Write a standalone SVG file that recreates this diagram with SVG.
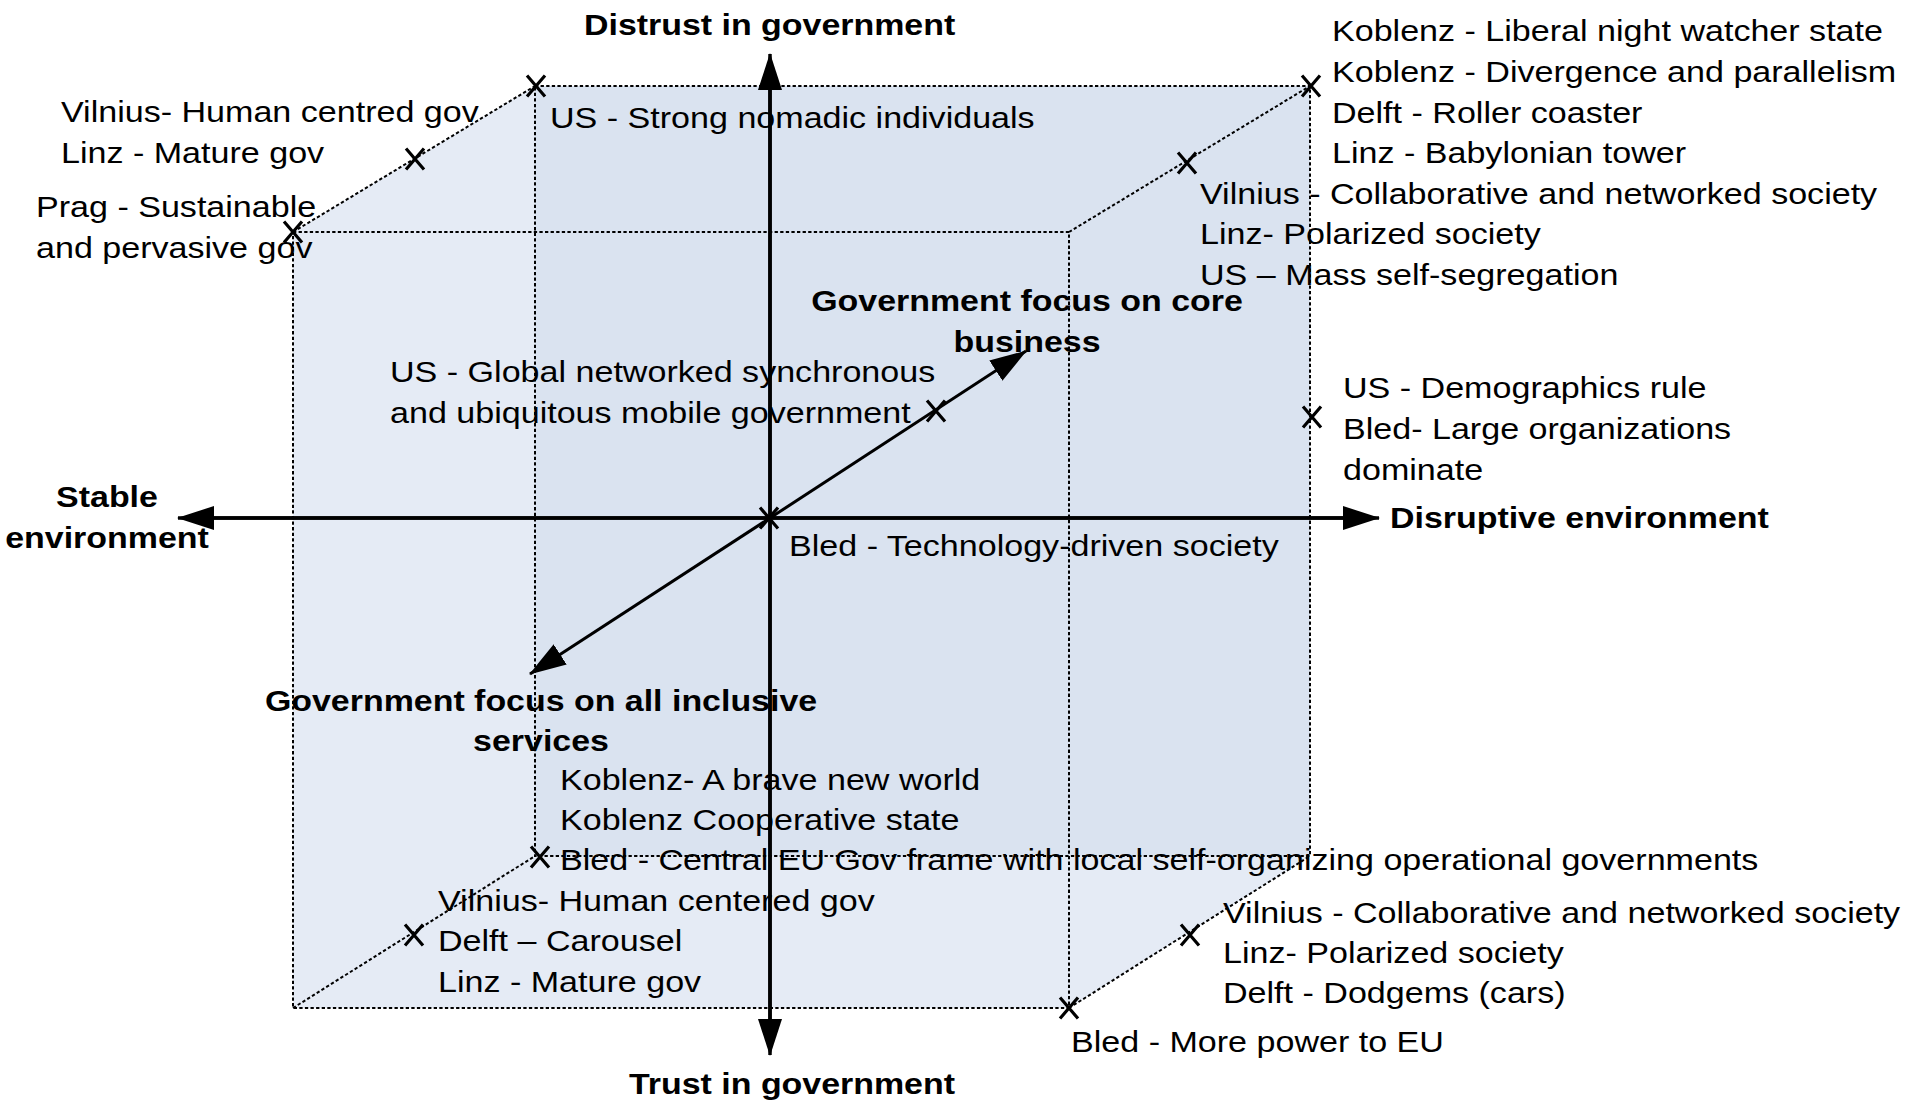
<svg xmlns="http://www.w3.org/2000/svg" xmlns:xlink="http://www.w3.org/1999/xlink" width="1909" height="1102" viewBox="0 0 1909 1102">
<style>
.t{font-family:"Liberation Sans",Arial,sans-serif;font-size:29px;fill:#000}
.b{font-weight:bold}
.m{text-anchor:middle}
.edge{fill:none;stroke:#000;stroke-width:2;stroke-dasharray:3.3 2.3}
.axis{fill:none;stroke:#000;stroke-width:3.5}
.diag{fill:none;stroke:#000;stroke-width:3}
.x{fill:none;stroke:#000;stroke-width:3.2}
</style>
<defs>
<marker id="ah" viewBox="0 0 37 24" refX="36" refY="12" markerWidth="37" markerHeight="24" markerUnits="userSpaceOnUse" orient="auto">
<path d="M0,0 L37,12 L0,24 z" fill="#000"/>
</marker>
<path id="xm" class="x" d="M-9,-10.5 L9,10.5 M9,-10.5 L-9,10.5"/>
</defs>
<rect width="1909" height="1102" fill="#fff"/>
<g id="cube">
<polygon points="293,232 535,86 1310,86 1310,856 1069,1008 293,1008" fill="#E5EBF5"/>
<rect x="535" y="86" width="775" height="770" fill="#DAE3F0"/>
<rect class="edge" x="535" y="86" width="775" height="770"/>
<rect class="edge" x="293" y="232" width="776" height="776"/>
<path class="edge" d="M293,232 L535,86 M1069,232 L1310,86 M293,1008 L535,856 M1069,1008 L1310,856"/>
</g>
<g id="connectors">
<line class="axis" x1="770" y1="1020" x2="770" y2="54" marker-end="url(#ah)"/>
<line class="axis" x1="770" y1="88" x2="770" y2="1055" marker-end="url(#ah)"/>
<line class="axis" x1="1345" y1="518" x2="178" y2="518" marker-end="url(#ah)"/>
<line class="axis" x1="208" y1="518" x2="1379" y2="518" marker-end="url(#ah)"/>
<line class="diag" x1="770" y1="518" x2="1026" y2="351" marker-end="url(#ah)"/>
<line class="diag" x1="770" y1="518" x2="530" y2="674" marker-end="url(#ah)"/>
</g>
<g id="markers">
<use xlink:href="#xm" x="536" y="86"/>
<use xlink:href="#xm" x="415" y="159"/>
<use xlink:href="#xm" x="293" y="232"/>
<use xlink:href="#xm" x="1311" y="86"/>
<use xlink:href="#xm" x="1187" y="163"/>
<use xlink:href="#xm" x="936" y="411"/>
<use xlink:href="#xm" x="769" y="518"/>
<use xlink:href="#xm" x="1312" y="417"/>
<use xlink:href="#xm" x="540" y="857"/>
<use xlink:href="#xm" x="414" y="935"/>
<use xlink:href="#xm" x="1069" y="1008"/>
<use xlink:href="#xm" x="1190" y="935"/>
</g>
<g id="axis-distrust"><text class="t b" transform="translate(584,35) scale(1.17,1)">Distrust in government</text></g>
<g id="axis-trust"><text class="t b" transform="translate(629,1094) scale(1.17,1)">Trust in government</text></g>
<g id="axis-stable"><text class="t b m" transform="translate(107,507) scale(1.17,1)"><tspan x="0" y="0">Stable</tspan><tspan x="0" dy="41">environment</tspan></text></g>
<g id="axis-disruptive"><text class="t b" transform="translate(1390,528) scale(1.17,1)">Disruptive environment</text></g>
<g id="axis-core"><text class="t b m" transform="translate(1027,311) scale(1.17,1)"><tspan x="0" y="0">Government focus on core</tspan><tspan x="0" dy="41">business</tspan></text></g>
<g id="axis-inclusive"><text class="t b m" transform="translate(541,711) scale(1.17,1)"><tspan x="0" y="0">Government focus on all inclusive</tspan><tspan x="0" dy="40">services</tspan></text></g>
<g id="lbl-vilnius-linz-tl"><text class="t" transform="translate(61,122) scale(1.175,1)"><tspan x="0" y="0">Vilnius- Human centred gov</tspan><tspan x="0" dy="41">Linz - Mature gov</tspan></text></g>
<g id="lbl-prag"><text class="t" transform="translate(36,217) scale(1.175,1)"><tspan x="0" y="0">Prag - Sustainable</tspan><tspan x="0" dy="41.5">and pervasive gov</tspan></text></g>
<g id="lbl-us-nomadic"><text class="t" transform="translate(550,128) scale(1.175,1)">US - Strong nomadic individuals</text></g>
<g id="lbl-top-right"><text class="t" transform="translate(1332,41) scale(1.175,1)"><tspan x="0" y="0">Koblenz - Liberal night watcher state</tspan><tspan x="0" dy="40.8">Koblenz - Divergence and parallelism</tspan><tspan x="0" dy="40.8">Delft - Roller coaster</tspan><tspan x="0" dy="40.8">Linz - Babylonian tower</tspan></text></g>
<g id="lbl-top-right-mid"><text class="t" transform="translate(1200,203.5) scale(1.175,1)"><tspan x="0" y="0">Vilnius - Collaborative and networked society</tspan><tspan x="0" dy="40.8">Linz- Polarized society</tspan><tspan x="0" dy="40.8">US – Mass self-segregation</tspan></text></g>
<g id="lbl-us-global"><text class="t" transform="translate(390,382) scale(1.175,1)"><tspan x="0" y="0">US - Global networked synchronous</tspan><tspan x="0" dy="41">and ubiquitous mobile government</tspan></text></g>
<g id="lbl-us-demographics"><text class="t" transform="translate(1343,398) scale(1.175,1)"><tspan x="0" y="0">US - Demographics rule</tspan><tspan x="0" dy="41">Bled- Large organizations</tspan><tspan x="0" dy="41">dominate</tspan></text></g>
<g id="lbl-bled-tech"><text class="t" transform="translate(789,556) scale(1.175,1)">Bled - Technology-driven society</text></g>
<g id="lbl-koblenz-bottom"><text class="t" transform="translate(560,790) scale(1.175,1)"><tspan x="0" y="0">Koblenz- A brave new world</tspan><tspan x="0" dy="40">Koblenz Cooperative state</tspan><tspan x="0" dy="40">Bled - Central EU Gov frame with local self-organizing operational governments</tspan></text></g>
<g id="lbl-vilnius-bottom"><text class="t" transform="translate(438,911) scale(1.175,1)"><tspan x="0" y="0">Vilnius- Human centered gov</tspan><tspan x="0" dy="40.5">Delft – Carousel</tspan><tspan x="0" dy="40.5">Linz - Mature gov</tspan></text></g>
<g id="lbl-bottom-right"><text class="t" transform="translate(1223,923) scale(1.175,1)"><tspan x="0" y="0">Vilnius - Collaborative and networked society</tspan><tspan x="0" dy="40">Linz- Polarized society</tspan><tspan x="0" dy="40">Delft - Dodgems (cars)</tspan></text></g>
<g id="lbl-bled-eu"><text class="t" transform="translate(1071,1052) scale(1.175,1)">Bled - More power to EU</text></g>
</svg>
